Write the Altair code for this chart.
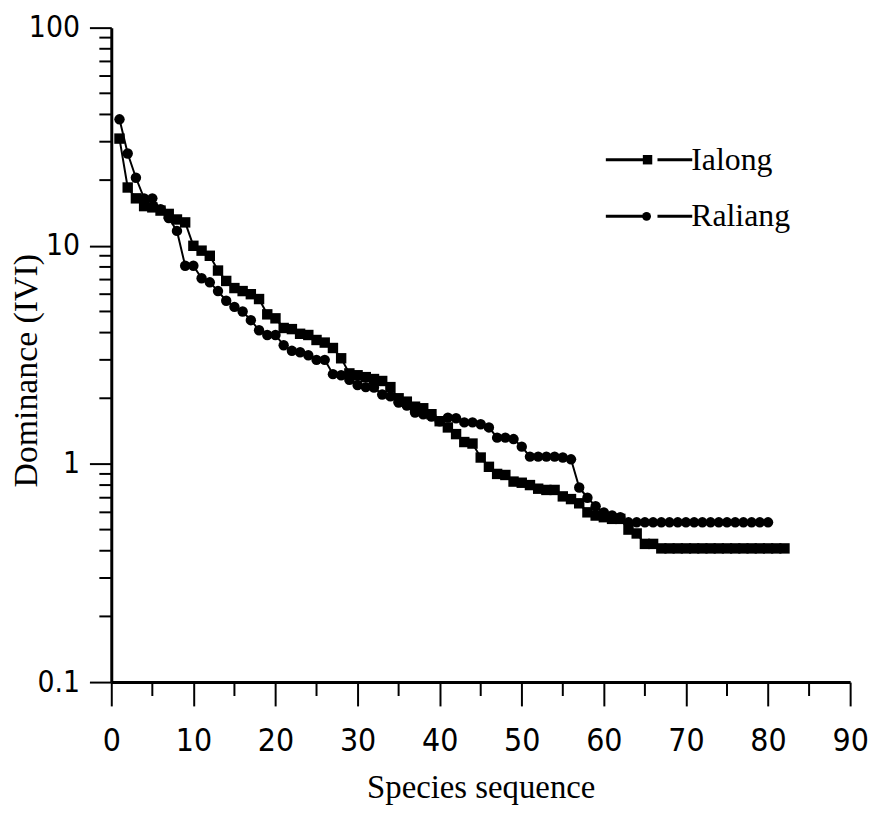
import altair as alt
import pandas as pd

# ---- data ----
ialong_dom = [31, 18.5, 16.5, 15.2, 15, 14.5, 14, 13.2, 12.8, 10,
              9.5, 9.0, 7.7, 6.9, 6.4, 6.2, 6.0, 5.7, 4.85, 4.65,
              4.2, 4.15, 3.95, 3.9, 3.7, 3.6, 3.4, 3.05, 2.6, 2.55,
              2.5, 2.45, 2.4, 2.25, 2.0, 1.93, 1.83, 1.8, 1.69, 1.57,
              1.47, 1.37, 1.26, 1.24, 1.07, 0.97, 0.9, 0.89, 0.83, 0.82,
              0.8, 0.77, 0.76, 0.76, 0.71, 0.69, 0.66, 0.6, 0.58, 0.57,
              0.56, 0.56, 0.5, 0.48, 0.43, 0.43,
              0.41, 0.41, 0.41, 0.41, 0.41, 0.41, 0.41, 0.41,
              0.41, 0.41, 0.41, 0.41, 0.41, 0.41, 0.41, 0.41]
raliang_dom = [38, 26.5, 20.5, 16.5, 16.5, 14.7, 13.4, 11.7, 8.1, 8.1,
               7.1, 6.8, 6.2, 5.6, 5.25, 5.0, 4.56, 4.1, 3.9, 3.9,
               3.5, 3.3, 3.25, 3.15, 3.0, 3.0, 2.58, 2.55, 2.43, 2.3,
               2.25, 2.24, 2.08, 2.04, 1.91, 1.85, 1.72, 1.69, 1.65, 1.57,
               1.63, 1.62, 1.55, 1.55, 1.52, 1.47, 1.32, 1.32, 1.3, 1.2,
               1.08, 1.08, 1.08, 1.08, 1.07, 1.05, 0.78, 0.7, 0.64, 0.6,
               0.58, 0.57,
               0.54, 0.54, 0.54, 0.54, 0.54, 0.54, 0.54, 0.54, 0.54,
               0.54, 0.54, 0.54, 0.54, 0.54, 0.54, 0.54, 0.54, 0.54]
series_names = ["Ialong", "Raliang"]
x_major = [0, 10, 20, 30, 40, 50, 60, 70, 80, 90]
x_minor = [5, 15, 25, 35, 45, 55, 65, 75, 85]
y_major = [0.1, 1, 10, 100]
y_minor = [0.2, 0.3, 0.4, 0.5, 0.6, 0.7, 0.8, 0.9,
           2, 3, 4, 5, 6, 7, 8, 9,
           20, 30, 40, 50, 60, 70, 80, 90]

W, H = 744, 659
TICK_FONT = "Liberation Sans Narrow, DejaVu Sans Condensed, Liberation Sans, Arial, sans-serif"
SERIF = "Liberation Serif, Times New Roman, serif"

rows = []
for i, v in enumerate(ialong_dom):
    rows.append({"seq": i + 1, "dom": v, "series": series_names[0]})
for i, v in enumerate(raliang_dom):
    rows.append({"seq": i + 1, "dom": v, "series": series_names[1]})
df = pd.DataFrame(rows)

xscale = alt.Scale(domain=[0, 90], nice=False, zero=False)
yscale = alt.Scale(type="log", domain=[0.1, 100], nice=False)

xenc = alt.X("seq:Q", scale=xscale,
             axis=alt.Axis(values=x_major, title="Species sequence", grid=False,
                           tickSize=24, tickWidth=2, tickColor="black",
                           domainWidth=3, domainColor="black",
                           labelFont=TICK_FONT, labelFontSize=32, labelColor="black",
                           labelPadding=20, labelFlush=False,
                           titleFont=SERIF, titleFontSize=33, titleFontWeight="normal",
                           titleColor="black", titleY=90, titleBaseline="top"))
yenc = alt.Y("dom:Q", scale=yscale,
             axis=alt.Axis(values=y_major, title="Dominance (IVI)", grid=False,
                           tickSize=22, tickWidth=2, tickColor="black",
                           domainWidth=3, domainColor="black",
                           labelFont=TICK_FONT, labelFontSize=30, labelColor="black",
                           labelPadding=10, labelFlush=False,
                           labelExpr="datum.value >= 1 ? format(datum.value, 'd') : format(datum.value, '.1f')",
                           titleFont=SERIF, titleFontSize=34, titleFontWeight="normal",
                           titleColor="black", titleX=-68, titleY=345))

base = alt.Chart(df)
lines = base.mark_line(color="black", strokeWidth=2).encode(
    x=xenc, y=yenc, detail="series:N")
squares = base.transform_filter(alt.datum.series == series_names[0]).mark_point(
    shape="square", filled=True, color="black", size=110, opacity=1).encode(
    x=alt.X("seq:Q", scale=xscale), y=alt.Y("dom:Q", scale=yscale))
circles = base.transform_filter(alt.datum.series == series_names[1]).mark_point(
    shape="circle", filled=True, color="black", size=110, opacity=1).encode(
    x=alt.X("seq:Q", scale=xscale), y=alt.Y("dom:Q", scale=yscale))

xminor = alt.Chart(pd.DataFrame({"seq": x_minor})).mark_rule(
    color="black", strokeWidth=2).encode(
    x=alt.X("seq:Q", scale=xscale), y=alt.value(H), y2=alt.value(H + 14))
yminor = alt.Chart(pd.DataFrame({"dom": y_minor})).mark_rule(
    color="black", strokeWidth=2).encode(
    y=alt.Y("dom:Q", scale=yscale), x=alt.value(-12), x2=alt.value(0))

# custom legend (line - marker - line - label)
leg = pd.DataFrame({"name": series_names, "row": [0, 1]})
leg["ly"] = 133 + leg["row"] * 57
leg_base = alt.Chart(leg)
leg_l1 = leg_base.mark_rule(color="black", strokeWidth=3).encode(
    x=alt.value(498), x2=alt.value(536), y=alt.Y("ly:Q", scale=None))
leg_l2 = leg_base.mark_rule(color="black", strokeWidth=3).encode(
    x=alt.value(550), x2=alt.value(585), y=alt.Y("ly:Q", scale=None))
leg_sq = leg_base.transform_filter(alt.datum.row == 0).mark_point(
    shape="square", filled=True, color="black", size=90, opacity=1).encode(
    x=alt.value(540), y=alt.Y("ly:Q", scale=None))
leg_ci = leg_base.transform_filter(alt.datum.row == 1).mark_point(
    shape="circle", filled=True, color="black", size=80, opacity=1).encode(
    x=alt.value(539), y=alt.Y("ly:Q", scale=None))
leg_tx = leg_base.mark_text(align="left", baseline="middle", font=SERIF,
                            fontSize=32, color="black", dx=-1).encode(
    x=alt.value(585), y=alt.Y("ly:Q", scale=None), text="name:N")

chart = alt.layer(lines, squares, circles, xminor, yminor,
                  leg_l1, leg_l2, leg_sq, leg_ci, leg_tx).properties(
    width=W, height=H,
    autosize=alt.AutoSizeParams(type="none"),
    padding={"left": 104, "top": 17, "right": 20, "bottom": 122},
    background="white",
).configure_view(stroke=None)

chart.save("out.html", embed_options={"renderer": "svg", "actions": False})
